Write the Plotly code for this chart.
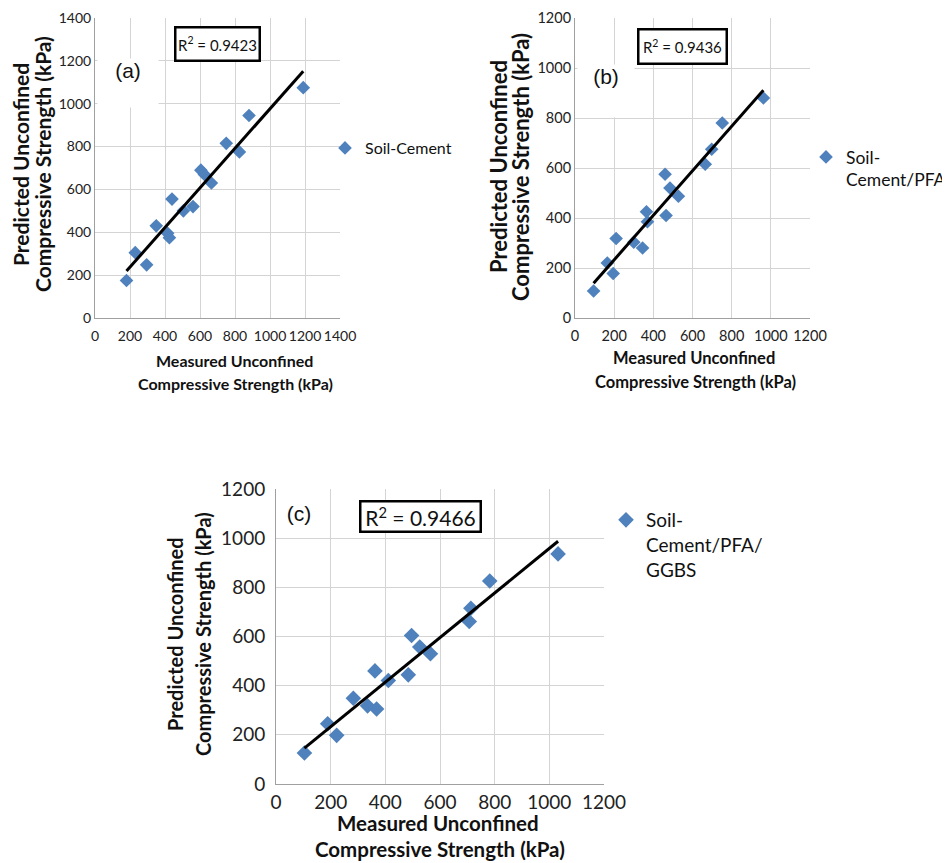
import numpy as np
import plotly.graph_objects as go

W, H = 950, 863
OFF = 8  # the page body adds an 8px margin around the figure

# ---- data ----
a_x = [180, 230, 295, 350, 415, 425, 440, 505, 560, 605, 625, 665, 750, 825, 880, 1190]
a_y = [175, 305, 248, 430, 395, 375, 555, 500, 520, 690, 670, 630, 815, 775, 945, 1075]
b_x = [95, 165, 195, 210, 300, 345, 365, 370, 460, 465, 485, 528, 665, 698, 752, 962]
b_y = [108, 220, 178, 318, 303, 280, 425, 385, 575, 410, 520, 487, 615, 675, 780, 880]
c_x = [104, 189, 222, 283, 335, 362, 368, 411, 484, 496, 526, 565, 707, 713, 782, 1032]
c_y = [126, 245, 198, 349, 318, 460, 305, 421, 444, 604, 557, 530, 661, 715, 826, 936]

series_names = ["Soil-Cement", "Soil-<br>Cement/PFA", "Soil-<br>Cement/PFA/<br>GGBS"]
r2_labels = ["R<sup>2</sup> = 0.9423", "R<sup>2</sup> = 0.9436", "R<sup>2</sup> = 0.9466"]
panel_labels = ["(a)", "(b)", "(c)"]
axis_max = [1400, 1200, 1200]

xtitle_lines = ["Measured Unconfined", "Compressive Strength (kPa)"]
ytitle_lines = ["Predicted Unconfined", "Compressive Strength (kPa)"]

BLUE = "#4F81BD"
GRID = "#d4d4d4"
AXL = "#a0a0a0"
FONT = "Lato"
TXT = "#111"


def px(x):
    return (x - OFF) / W


def py(y):
    return 1 - (y - OFF) / H


# plot-area boxes in screen pixels: (left, right, top, bottom)
boxes = [(95, 340, 18, 318), (575, 810, 18, 318), (276, 604, 489, 784)]

fig = go.Figure()
datasets = [(a_x, a_y), (b_x, b_y), (c_x, c_y)]
msize = [10.5, 10.5, 12]
for i, (xs, ys) in enumerate(datasets):
    xa = "x" if i == 0 else f"x{i+1}"
    ya = "y" if i == 0 else f"y{i+1}"
    lg = "legend" if i == 0 else f"legend{i+1}"
    fig.add_trace(go.Scatter(
        x=xs, y=ys, mode="markers", name=series_names[i],
        marker=dict(symbol="diamond", size=msize[i], color=BLUE, line=dict(width=0)),
        xaxis=xa, yaxis=ya, legend=lg, showlegend=True))
    k, b = np.polyfit(xs, ys, 1)
    xl = np.array([min(xs), max(xs)])
    fig.add_trace(go.Scatter(
        x=xl, y=k * xl + b, mode="lines", line=dict(color="black", width=3),
        xaxis=xa, yaxis=ya, showlegend=False, hoverinfo="skip"))

tick_sizes = [14, 14.5, 19]
x_standoff = [5, 5, 1]
y_standoff = [0, 0, 6]
for i, (l, r, t, bt) in enumerate(boxes):
    sfx = "" if i == 0 else str(i + 1)
    common = dict(showgrid=True, gridcolor=GRID, gridwidth=1, zeroline=False,
                  showline=True, linecolor=AXL, linewidth=1, ticks="", tickangle=0,
                  tickfont=dict(family=FONT, size=tick_sizes[i], color="#222"),
                  range=[0, axis_max[i]], dtick=200, fixedrange=True)
    fig.layout[f"xaxis{sfx}"] = dict(domain=[px(l), px(r)], anchor=f"y{sfx}",
                                     ticklabelstandoff=x_standoff[i], **common)
    fig.layout[f"yaxis{sfx}"] = dict(domain=[py(bt), py(t)], anchor=f"x{sfx}",
                                     ticklabelstandoff=y_standoff[i], **common)

anns = []
# white patches + panel labels (the source hides grid lines behind (a) and (b))
pl_boxes = [(96.5, 58, 60, 48), (576.5, 64, 56, 52), (286, 501, 24, 28)]
pl_bg = ["white", "white", "rgba(0,0,0,0)"]
for i in range(3):
    bx, by, bw, bh = pl_boxes[i]
    anns.append(dict(x=px(bx), y=py(by), xref="paper", yref="paper",
                     text=panel_labels[i], showarrow=False, xanchor="left", yanchor="top",
                     width=bw, height=bh, align="center", valign="top", borderpad=0,
                     bgcolor=pl_bg[i],
                     font=dict(family="Liberation Sans", size=21, color=TXT)))

# axis titles, one annotation per line
xt_lines = [[(234, 360), (235, 383)], [(694, 358), (695, 382)], [(438, 823), (440, 849)]]
xt_size = [16, 16.5, 20.5]
yt_lines = [[(20, 165), (42, 164)], [(498, 167), (520, 167)], [(175, 634), (203, 634)]]
yt_size = [21, 22, 20]
for i in range(3):
    for j in range(2):
        anns.append(dict(x=px(xt_lines[i][j][0]), y=py(xt_lines[i][j][1]), xref="paper", yref="paper",
                         text=f"<b>{xtitle_lines[j]}</b>", showarrow=False,
                         xanchor="center", yanchor="middle",
                         font=dict(family=FONT, size=xt_size[i], color=TXT)))
        anns.append(dict(x=px(yt_lines[i][j][0]), y=py(yt_lines[i][j][1]), xref="paper", yref="paper",
                         text=f"<b>{ytitle_lines[j]}</b>", showarrow=False,
                         xanchor="center", yanchor="middle", textangle=-90,
                         font=dict(family=FONT, size=yt_size[i], color=TXT)))

# R^2 boxes: centre (x, y), outer width, outer height
r2_box = [(217.5, 44, 87, 36), (682.5, 46.5, 91, 37), (420.5, 516.5, 123, 33)]
r2_size = [15, 15, 21]
for i in range(3):
    cx, cy, bw, bh = r2_box[i]
    anns.append(dict(x=px(cx), y=py(cy), xref="paper", yref="paper",
                     text=r2_labels[i], showarrow=False, xanchor="center", yanchor="middle",
                     width=bw - 5, height=bh - 5, align="center", valign="middle",
                     font=dict(family=FONT, size=r2_size[i], color=TXT),
                     bordercolor="black", borderwidth=2.5, borderpad=0, bgcolor="white"))

leg_common = dict(bgcolor="rgba(0,0,0,0)", borderwidth=0, valign="top",
                  xanchor="left", yanchor="top", itemwidth=30)
fig.update_layout(
    width=W, height=H, margin=dict(l=0, r=0, t=0, b=0, autoexpand=False),
    paper_bgcolor="white", plot_bgcolor="white",
    annotations=anns,
    legend=dict(x=px(325), y=py(131), font=dict(family=FONT, size=16, color=TXT), **leg_common),
    legend2=dict(x=px(806), y=py(139), font=dict(family=FONT, size=17.5, color=TXT), **leg_common),
    legend3=dict(x=px(606), y=py(501), font=dict(family=FONT, size=19, color=TXT), **leg_common),
)

fig.write_html("out.html")
